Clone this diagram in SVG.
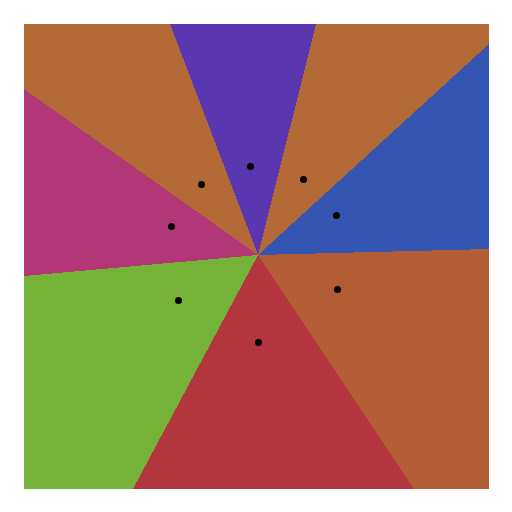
<svg xmlns="http://www.w3.org/2000/svg" width="512" height="512" viewBox="0 0 512 512">
<style>
.d{fill:#000}
#regions polygon{shape-rendering:crispEdges}
</style>
<rect width="512" height="512" fill="#fff"/>
<g id="regions">
<polygon fill="#B36A37" points="24,24 170,24 258,255 24,89"/>
<polygon fill="#5A37B0" points="170,24 316,24 258,255"/>
<polygon fill="#B36A37" points="316,24 489,24 489,44 258,255"/>
<polygon fill="#3555B3" points="489,44 489,249 258,255"/>
<polygon fill="#B35D37" points="489,249 489,489 414,489 258,255"/>
<polygon fill="#B3363F" points="414,489 133,489 258,255"/>
<polygon fill="#74B337" points="133,489 24,489 24,276 258,255"/>
<polygon fill="#B33777" points="24,276 24,89 258,255"/>
</g>
<g id="points">
<circle class="d" cx="250.5" cy="166.5" r="3.5"/>
<circle class="d" cx="303.5" cy="179.5" r="3.5"/>
<circle class="d" cx="336.5" cy="215.5" r="3.5"/>
<circle class="d" cx="337.5" cy="289.5" r="3.5"/>
<circle class="d" cx="258.5" cy="342.5" r="3.5"/>
<circle class="d" cx="178.5" cy="300.5" r="3.5"/>
<circle class="d" cx="171.5" cy="226.5" r="3.5"/>
<circle class="d" cx="201.5" cy="184.5" r="3.5"/>
</g>
</svg>
